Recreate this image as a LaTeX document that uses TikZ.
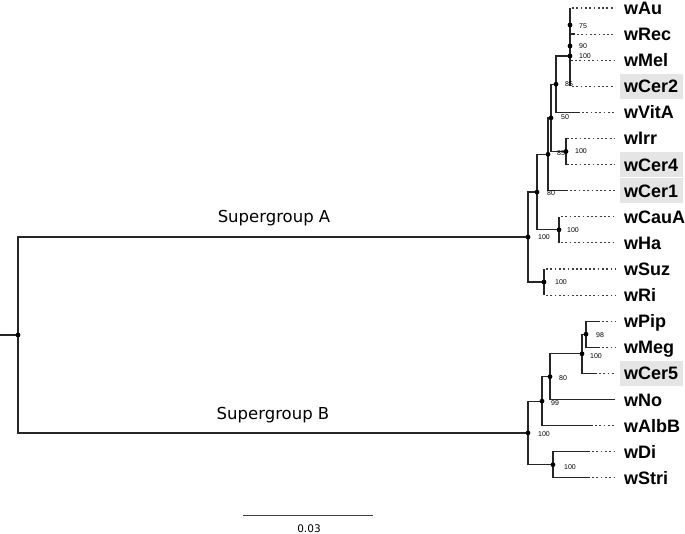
\documentclass[tikz,border=0pt]{standalone}
\usepackage{fontspec}
\setmainfont{Liberation Sans}
\newfontfamily\labfont{DejaVu Sans}
\begin{document}
\begin{tikzpicture}[x=1pt,y=-1pt,
  br/.style={line width=1.2pt, draw=black!85},
  dt/.style={line width=1.1pt, draw=black!75, dash pattern=on 1.8pt off 2.5pt},
  nd/.style={circle, fill=black, inner sep=0pt, minimum size=4.8pt},
  bs/.style={font=\fontsize{7}{8}\selectfont, inner sep=0pt},
  leaf/.style={font=\fontsize{18}{20}\selectfont\bfseries, anchor=west, inner sep=0pt, text height=13pt, text depth=0pt},
  hl/.style={fill=black!10, draw=none, minimum width=63pt, minimum height=25pt, inner sep=0pt},
  grp/.style={font=\labfont\fontsize{16.5}{18}\selectfont, inner sep=0pt}]
\useasboundingbox (0,0) rectangle (685,534);

% highlight boxes
\node[hl] (hCer2) at (651.5,86.3) {};
\node[hl] (hCer4) at (651.5,164.6) {};
\node[hl] (hCer1) at (651.5,190.7) {};
\node[hl] (hCer5) at (651.5,373.4) {};

% internal nodes
\coordinate (root) at (18,335);
\coordinate (stub) at (0,335);
\coordinate (A) at (528,237);
\coordinate (B) at (528,432.9);
\coordinate (T) at (570,56);
\coordinate (D75) at (570,25);
\coordinate (D90) at (570,46);
\coordinate (N556) at (556,84.2);
\coordinate (N50) at (551,117.9);
\coordinate (IC4) at (566,151.5);
\coordinate (N85b) at (548,154.3);
\coordinate (N80) at (537,192.1);
\coordinate (CH) at (559,229.8);
\coordinate (SR) at (544,282);
\coordinate (N98) at (586,334.2);
\coordinate (N100b) at (582,353.8);
\coordinate (N80b) at (550,376.7);
\coordinate (N99) at (542,401.1);
\coordinate (DS) at (553,464.7);

% leaf tips (end of solid part) and dotted ends
\foreach \n/\x/\y in {Au/570/8, Rec/575/34.1, Mel/573/60.2, Cer2/570/86.3, VitA/580/112.4,
  Irr/569/138.5, Cer4/569/164.6, Cer1/568/190.7, CauA/559/216.8, Ha/559/242.9,
  Suz/544/269, Ri/544/295.1, Pip/600/321.2, Meg/600/347.3, Cer5/597/373.4,
  No/615/399.5, AlbB/593/425.6, Di/590/451.7, Stri/590/477.8}{
  \coordinate (t\n) at (\x,\y);
  \coordinate (e\n) at (615,\y);
  \node[leaf] (l\n) at (624,\y) {w\n};
}

% solid branches
\draw[br] (stub) -- (root);
\draw[br] (root) |- (A);
\draw[br] (root) |- (B);
\draw[br] (A) |- (N80);
\draw[br] (A) |- (SR);
\draw[br] (N80) |- (N85b);
\draw[br] (N80) |- (CH);
\draw[br] (N85b) |- (N50);
\draw[br] (N85b) |- (tCer1);
\draw[br] (N50) |- (N556);
\draw[br] (N50) |- (IC4);
\draw[br] (N556) |- (T);
\draw[br] (N556) |- (tVitA);
\draw[br] (T) |- (tAu);
\draw[br] (T) |- (tRec);
\draw[br] (T) |- (tMel);
\draw[br] (T) |- (tCer2);
\draw[br] (IC4) |- (tIrr);
\draw[br] (IC4) |- (tCer4);
\draw[br] (CH) |- (tCauA);
\draw[br] (CH) |- (tHa);
\draw[br] (SR) |- (tSuz);
\draw[br] (SR) |- (tRi);
\draw[br] (B) |- (N99);
\draw[br] (B) |- (DS);
\draw[br] (N99) |- (N80b);
\draw[br] (N99) |- (tAlbB);
\draw[br] (N80b) |- (N100b);
\draw[br] (N80b) |- (tNo);
\draw[br] (N100b) |- (N98);
\draw[br] (N100b) |- (tCer5);
\draw[br] (N98) |- (tPip);
\draw[br] (N98) |- (tMeg);
\draw[br] (DS) |- (tDi);
\draw[br] (DS) |- (tStri);

% dotted extensions
\foreach \n in {Au,Rec,Mel,Cer2,VitA,Irr,Cer4,Cer1,CauA,Ha,Suz,Ri,Pip,Meg,Cer5,AlbB,Di,Stri}{
  \draw[dt] ([xshift=2pt]t\n) -- (e\n);
}

% node dots
\foreach \c in {root,A,B,T,D75,D90,N556,N50,IC4,N85b,N80,CH,SR,N98,N100b,N80b,N99,DS}{
  \node[nd] (dot\c) at (\c) {};
}

% bootstrap values
\node[bs] (b75) at (583,26) {75};
\node[bs] (b90) at (583,46) {90};
\node[bs] (b100t) at (585,56) {100};
\node[bs] (b85a) at (569,84) {85};
\node[bs] (b50) at (565,117) {50};
\node[bs] (b85b) at (561,153) {85};
\node[bs] (b100i) at (581,151) {100};
\node[bs] (b80a) at (551,193) {80};
\node[bs] (b100c) at (573,230) {100};
\node[bs] (b100A) at (544,237) {100};
\node[bs] (b100s) at (561,282) {100};
\node[bs] (b98) at (600,335) {98};
\node[bs] (b100p) at (596,356) {100};
\node[bs] (b80b) at (563,378) {80};
\node[bs] (b99) at (555,403) {99};
\node[bs] (b100B) at (544,434) {100};
\node[bs] (b100d) at (570,467) {100};

% group labels
\node[grp] (gA) at (274,218) {Supergroup A};
\node[grp] (gB) at (273,415) {Supergroup B};

% scale bar
\coordinate (sb1) at (243,515);
\coordinate (sb2) at (373,515);
\draw[line width=1pt, draw=black!75] (sb1) -- (sb2);
\node[font=\labfont\fontsize{10.5}{12}\selectfont, inner sep=0pt] (sbl) at (309,529) {0.03};
\end{tikzpicture}
\end{document}
